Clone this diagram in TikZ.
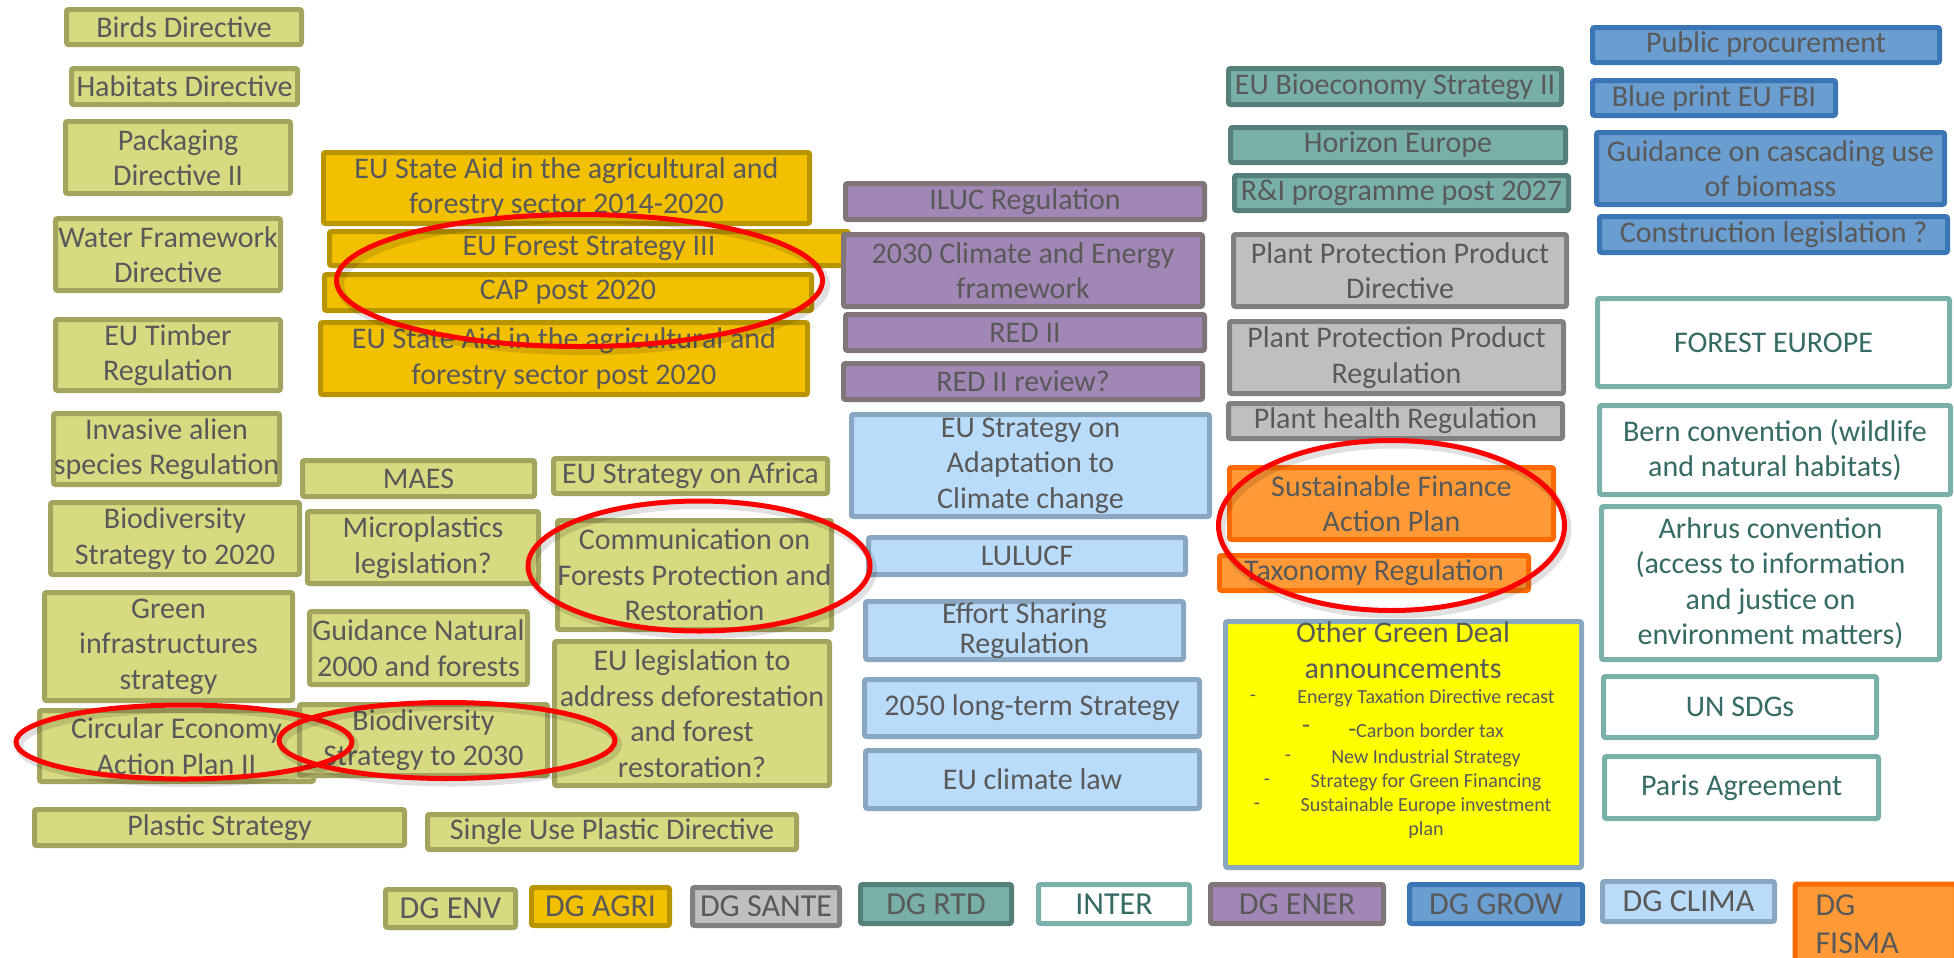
\documentclass[tikz,border=0pt]{standalone}
\usepackage{fontspec}
\setmainfont{Carlito}
\usetikzlibrary{positioning}
\definecolor{txtgray}{HTML}{595959}
\definecolor{envfill}{HTML}{D7DA80}
\definecolor{envline}{HTML}{A3A55E}
\definecolor{agrifill}{HTML}{F3C000}
\definecolor{agriline}{HTML}{B89400}
\definecolor{santefill}{HTML}{BFBFBF}
\definecolor{santeline}{HTML}{808080}
\definecolor{rtdfill}{HTML}{78AFA9}
\definecolor{rtdline}{HTML}{557F7B}
\definecolor{interline}{HTML}{79B0AA}
\definecolor{intertext}{HTML}{356B64}
\definecolor{enerfill}{HTML}{A187B5}
\definecolor{enerline}{HTML}{807578}
\definecolor{growfill}{HTML}{6A9DD0}
\definecolor{growline}{HTML}{3A75B5}
\definecolor{climafill}{HTML}{B9DCFB}
\definecolor{climaline}{HTML}{8AA7C1}
\definecolor{fismafill}{HTML}{FF9A36}
\definecolor{fismaline}{HTML}{FF6A00}
\definecolor{dealfill}{HTML}{FFFF00}
\tikzset{
  polbox/.style={draw,line width=2.5pt,rounded corners=1pt,inner sep=0pt,align=center,
    text=txtgray,font=\fontsize{15pt}{17.75pt}\selectfont},
  sz/.style 2 args={minimum width=#1*0.5pt-2.5pt,minimum height=#2*0.5pt-2.5pt},
  envbox/.style={polbox,fill=envfill,draw=envline},
  agribox/.style={polbox,fill=agrifill,draw=agriline},
  santebox/.style={polbox,fill=santefill,draw=santeline},
  rtdbox/.style={polbox,fill=rtdfill,draw=rtdline},
  interbox/.style={polbox,fill=white,draw=interline,text=intertext},
  enerbox/.style={polbox,fill=enerfill,draw=enerline},
  growbox/.style={polbox,fill=growfill,draw=growline},
  climabox/.style={polbox,fill=climafill,draw=climaline},
  fismabox/.style={polbox,fill=fismafill,draw=fismaline},
  dealbox/.style={polbox,fill=dealfill,draw=climaline},
  keytext/.style={font=\fontsize{16pt}{19pt}\selectfont},
  itemtext/.style={text=txtgray,inner sep=0pt,font=\fontsize{10pt}{12pt}\selectfont},
  ring/.style={draw=red,line width=2.5pt},
  ringshadow/.style={draw=black,opacity=.12,line width=4pt},
}
\begin{document}
\begin{tikzpicture}[x=0.5pt,y=-0.5pt]
\useasboundingbox (0,0) rectangle (1954,958);
\clip (0,0) rectangle (1954,958);
% DG ENV
\node[envbox,sz={240}{40}] (birds) at (184,27) {Birds Directive};
\node[envbox,sz={231}{41}] (habitats) at (184.5,86.5) {Habitats Directive};
\node[envbox,sz={230}{77}] (packaging) at (178,157.5) {Packaging\\Directive II};
\node[envbox,sz={230}{77}] (water) at (168,254.5) {Water Framework\\Directive};
\node[envbox,sz={230}{76}] (timber) at (168,355) {EU Timber\\Regulation};
\node[envbox,sz={231}{76}] (invasive) at (166.5,449) {Invasive alien\\species Regulation};
\node[envbox,sz={254}{77}] (bio2020) at (175,538.5) {Biodiversity\\Strategy to 2020};
\node[envbox,sz={253}{113}] (greeninf) at (168.5,646.5) {Green\\infrastructures\\strategy};
\node[envbox,sz={279}{76}] (circular) at (176.5,746) {Circular Economy\\Action Plan II};
\node[envbox,sz={375}{41}] (plastic) at (219.5,827.5) {Plastic Strategy};
\node[envbox,sz={237}{41}] (maes) at (418.5,478.5) {MAES};
\node[envbox,sz={279}{40}] (africa) at (690.5,476) {EU Strategy on Africa};
\node[envbox,sz={236}{77}] (micro) at (423,547.5) {Microplastics\\legislation?};
\node[envbox,sz={279}{114}] (comm) at (694.5,575) {Communication on\\Forests Protection and\\Restoration};
\node[envbox,sz={223}{78}] (natura) at (418.5,648) {Guidance Natural\\2000 and forests};
\node[envbox,sz={253}{76}] (bio2030) at (423.5,740) {Biodiversity\\Strategy to 2030};
\node[envbox,sz={280}{149}] (deforest) at (692,713.5) {EU legislation to\\address deforestation\\and forest\\restoration?};
\node[envbox,sz={374}{40}] (singleuse) at (612,832) {Single Use Plastic Directive};
% DG AGRI
\node[agribox,sz={491}{76}] (aid1420) at (566.5,188) {EU State Aid in the agricultural and\\forestry sector 2014-2020};
\node[agribox,sz={524}{39}] (forest3) at (589,248.5) {EU Forest Strategy III};
\node[agribox,sz={492}{41}] (cap) at (568,292.5) {CAP post 2020};
\node[agribox,sz={492}{77}] (aidpost) at (564,358.5) {EU State Aid in the agricultural and\\forestry sector post 2020};
% DG ENER
\node[enerbox,sz={364}{41}] (iluc) at (1025,201.5) {ILUC Regulation};
\node[enerbox,sz={364}{77}] (clim2030) at (1023,270.5) {2030 Climate and Energy\\framework};
\node[enerbox,sz={364}{41}] (red2) at (1025,332.5) {RED II};
\node[enerbox,sz={364}{41}] (red2rev) at (1023,381.5) {RED II review?};
% DG CLIMA
\node[climabox,sz={363}{107}] (adapt) at (1030.5,465.5) {EU Strategy on\\Adaptation to\\Climate change};
\node[climabox,sz={322}{42}] (lulucf) at (1027,556) {LULUCF};
\node[climabox,sz={323}{63}] (effort) at (1024.5,630.5) {Effort Sharing\\[-2.5pt]Regulation};
\node[climabox,sz={340}{62}] (lts2050) at (1032,708) {2050 long-term Strategy};
\node[climabox,sz={339}{63}] (climlaw) at (1032.5,779.5) {EU climate law};
% DG RTD
\node[rtdbox,sz={338}{41}] (bioeco) at (1395,86.5) {EU Bioeconomy Strategy II};
\node[rtdbox,sz={340}{40}] (horizon) at (1398,145) {Horizon Europe};
\node[rtdbox,sz={339}{40}] (rni) at (1401.5,193) {R\&I programme post 2027};
% DG SANTE
\node[santebox,sz={338}{77}] (ppdir) at (1400,270.5) {Plant Protection Product\\Directive};
\node[santebox,sz={339}{77}] (ppreg) at (1396.5,357.5) {Plant Protection Product\\Regulation};
\node[santebox,sz={339}{40}] (health) at (1395.5,421) {Plant health Regulation};
% DG FISMA
\node[fismabox,sz={329}{77}] (sfap) at (1391.5,503.5) {Sustainable Finance\\Action Plan};
\node[fismabox,sz={314}{40}] (taxo) at (1374,573) {Taxonomy Regulation};
% green deal
\node[dealbox,sz={361}{251}] (deal) at (1403.5,744.5) {};
\node[polbox,draw=none] (dealtitle) at (1403,650) {Other Green Deal\\announcements};
\node[itemtext] (dash1) at (1253,698) {-};
\node[itemtext] (item1) at (1426,698) {Energy Taxation Directive recast};
\node[itemtext,font=\fontsize{13pt}{14pt}\selectfont] (dash2) at (1306,729) {-};
\node[itemtext] (item2) at (1426,731) {{\fontsize{13pt}{14pt}\selectfont-}Carbon border tax};
\node[itemtext] (dash3) at (1288,758) {-};
\node[itemtext] (item3) at (1426,758) {New Industrial Strategy};
\node[itemtext] (dash4) at (1267,782) {-};
\node[itemtext] (item4) at (1426,782) {Strategy for Green Financing};
\node[itemtext] (dash5) at (1257,806) {-};
\node[itemtext,align=center] (item5) at (1426,818) {Sustainable Europe investment\\plan};
% DG GROW
\node[growbox,sz={352}{40}] (procure) at (1766,45) {Public procurement};
\node[growbox,sz={248}{40}] (blueprint) at (1714,98) {Blue print EU FBI};
\node[growbox,sz={353}{77}] (cascade) at (1770.5,168.5) {Guidance on cascading use\\of biomass};
\node[growbox,sz={353}{41}] (construct) at (1773.5,234.5) {Construction legislation ?};
% INTER
\node[interbox,sz={357}{93}] (foresteu) at (1773.5,342.5) {FOREST EUROPE};
\node[interbox,sz={356}{94}] (bern) at (1775,450) {Bern convention (wildlife\\and natural habitats)};
\node[interbox,sz={343}{158}] (arhrus) at (1770.5,583) {Arhrus convention\\(access to information\\and justice on\\environment matters)};
\node[interbox,sz={278}{66}] (sdgs) at (1740,707) {UN SDGs};
\node[interbox,sz={279}{67}] (paris) at (1741.5,787.5) {Paris Agreement};
% legend
\node[envbox,keytext,sz={135}{43}] (lenv) at (450.5,908.5) {DG ENV};
\node[agribox,keytext,sz={143}{43}] (lagri) at (600.5,906.5) {DG AGRI};
\node[santebox,keytext,sz={152}{43}] (lsante) at (766,906.5) {DG SANTE};
\node[rtdbox,keytext,sz={156}{44}] (lrtd) at (936,904) {DG RTD};
\node[interbox,keytext,sz={156}{44}] (linter) at (1114,904) {INTER};
\node[enerbox,keytext,sz={178}{44}] (lener) at (1297,904) {DG ENER};
\node[growbox,keytext,sz={178}{44}] (lgrow) at (1496,904) {DG GROW};
\node[climabox,keytext,sz={177}{45}] (lclima) at (1688.5,901.5) {DG CLIMA};
\node[fismabox,keytext,anchor=north west,align=left,text width=60pt,inner xsep=10.25pt,
  minimum height=40.5pt] (lfisma) at (1792.5,881.5) {DG\\FISMA};
% red rings
\draw[ringshadow] (583,285) ellipse [x radius=243, y radius=66];
\draw[ring] (579.5,280.5) ellipse [x radius=243, y radius=66];
\draw[ringshadow] (702,570) ellipse [x radius=171, y radius=65];
\draw[ring] (699,566) ellipse [x radius=171, y radius=65];
\draw[ringshadow] (187,746) ellipse [x radius=168, y radius=37];
\draw[ring] (184,742) ellipse [x radius=168, y radius=37];
\draw[ringshadow] (450,744.5) ellipse [x radius=168, y radius=38];
\draw[ring] (447,740.5) ellipse [x radius=168, y radius=38];
\draw[ringshadow] (1394.5,529.5) ellipse [x radius=173, y radius=85];
\draw[ring] (1391.5,525.5) ellipse [x radius=173, y radius=85];
\end{tikzpicture}
\end{document}
